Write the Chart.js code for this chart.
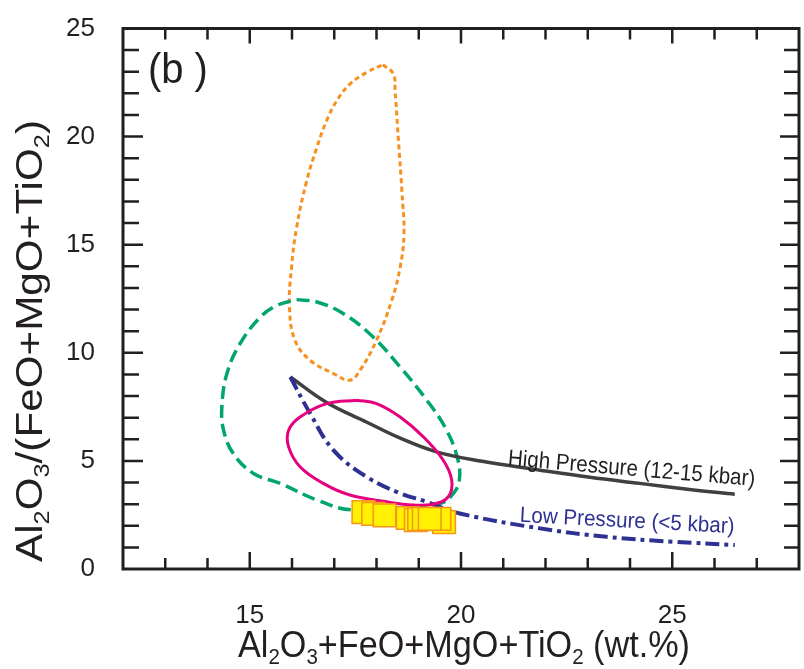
<!DOCTYPE html>
<html>
<head>
<meta charset="utf-8">
<script src="https://cdn.jsdelivr.net/npm/chart.js"></script>
<style>
  html, body { margin: 0; padding: 0; background: #fff; overflow: hidden; }
  canvas { display: block; }
</style>
</head>
<body>
<canvas id="chart" width="804" height="669"></canvas>
<script>
// orange dotted field
const orangeX = [18.15, 18.40, 18.44, 18.52, 18.60, 18.65, 18.56, 18.36, 18.00, 17.61, 17.37, 16.98, 16.43, 16.07, 15.94, 15.99, 16.11, 16.35, 16.59, 16.82, 17.06, 17.37, 17.77, 18.15]
const orangeY = [23.33, 22.90, 22.12, 19.82, 17.50, 15.50, 13.96, 12.42, 10.58, 9.19, 8.73, 9.04, 9.65, 10.58, 12.12, 13.96, 15.81, 17.97, 19.51, 20.74, 21.66, 22.43, 22.97, 23.33]

// green dashed field
const greenX = [16.11, 16.59, 17.22, 17.92, 18.56, 19.19, 19.66, 19.93, 19.96, 19.82, 19.50, 17.45, 16.59, 15.72, 15.09, 14.61, 14.38, 14.34, 14.46, 14.77, 15.25, 15.64, 16.11]
const greenY = [12.46, 12.35, 11.81, 10.73, 9.34, 7.81, 6.42, 5.03, 4.11, 3.50, 3.03, 2.73, 3.19, 3.96, 4.42, 5.34, 6.42, 7.50, 9.04, 10.42, 11.65, 12.19, 12.46]

// magenta field
const pinkX = [17.53, 18.00, 18.56, 19.11, 19.58, 19.78, 19.70, 19.34, 18.87, 18.24, 17.37, 16.74, 16.19, 15.92, 15.92, 16.19, 16.82, 17.53]
const pinkY = [7.81, 7.65, 7.03, 6.11, 5.03, 4.11, 3.34, 3.00, 2.96, 3.11, 3.42, 3.96, 4.73, 5.65, 6.42, 7.03, 7.65, 7.81]

// high pressure curve (12-15 kbar)
const highX = [15.96, 16.82, 17.76, 18.55, 19.42, 20.50, 21.87, 23.05, 24.23, 25.41, 26.48]
const highY = [8.88, 7.70, 6.80, 6.06, 5.42, 4.98, 4.57, 4.24, 3.96, 3.68, 3.46]

// low pressure curve (<5 kbar)
const lowX = [15.96, 16.43, 16.98, 17.77, 18.56, 19.19, 19.97, 21.87, 23.44, 25.02, 26.48]
const lowY = [8.88, 7.19, 5.50, 4.26, 3.50, 3.11, 2.57, 1.88, 1.49, 1.26, 1.11]

// samples
const sampleX = [17.69, 17.92, 18.19, 18.74, 18.93, 19.01, 19.12, 19.60, 19.49, 19.26]
const sampleY = [2.63, 2.55, 2.48, 2.36, 2.26, 2.30, 2.32, 2.17, 2.32, 2.32]

const xTicks = [15, 20, 25]
const yTicks = [0, 5, 10, 15, 20, 25]

const ink = '#231f20'
const family = '"Liberation Sans", Arial, Helvetica, sans-serif'

const pts = (xs, ys) => xs.map((x, i) => ({ x: x, y: ys[i] }))

// text with _x subscripts, squeezed to a target width
function parts(str) {
    const out = []
    for (let i = 0; i < str.length; i++) {
        if (str[i] === '_') { out.push({ t: str[i + 1], sub: true }); i++ }
        else if (out.length && !out[out.length - 1].sub) out[out.length - 1].t += str[i]
        else out.push({ t: str[i], sub: false })
    }
    return out
}

function drawRich(ctx, str, size, width, align) {
    const list = parts(str)
    let w = 0
    list.forEach(p => {
        ctx.font = (p.sub ? size * 0.6 : size) + 'px ' + family
        w += ctx.measureText(p.t).width
    })
    ctx.save()
    ctx.scale(width / w, 1)
    let cx = align === 'center' ? -w / 2 : 0
    ctx.textBaseline = 'alphabetic'
    ctx.textAlign = 'left'
    list.forEach(p => {
        ctx.font = (p.sub ? size * 0.6 : size) + 'px ' + family
        ctx.fillText(p.t, cx, p.sub ? size * 0.2 : 0)
        cx += ctx.measureText(p.t).width
    })
    ctx.restore()
}

const frame = {
    id: 'frame',
    afterDraw(chart) {
        const { ctx, chartArea: a, scales: { x, y } } = chart
        ctx.save()
        ctx.strokeStyle = ink
        ctx.lineWidth = 2.5
        ctx.beginPath()
        x.ticks.forEach(t => {
            if (t.value <= x.min || t.value >= x.max) return
            const px = x.getPixelForValue(t.value)
            const major = xTicks.includes(t.value)
            ctx.moveTo(px, a.bottom); ctx.lineTo(px, a.bottom - (major ? 17 : 11))
            ctx.moveTo(px, a.top); ctx.lineTo(px, a.top + (major ? 15 : 11))
        })
        y.ticks.forEach(t => {
            if (t.value <= y.min || t.value >= y.max) return
            const py = y.getPixelForValue(t.value)
            const major = yTicks.includes(t.value)
            ctx.moveTo(a.left, py); ctx.lineTo(a.left + (major ? 20 : 16), py)
            ctx.moveTo(a.right, py); ctx.lineTo(a.right - (major ? 19 : 15), py)
        })
        ctx.stroke()
        ctx.lineWidth = 3
        ctx.strokeRect(a.left, a.top, a.right - a.left, a.bottom - a.top)
        ctx.restore()
    }
}

const labels = {
    id: 'labels',
    afterDraw(chart) {
        const { ctx, chartArea: a, scales: { x, y } } = chart
        ctx.save()
        ctx.fillStyle = ink

        // axis titles
        ctx.save()
        ctx.translate((a.left + a.right) / 2 + 3, 657)
        drawRich(ctx, 'Al_2O_3+FeO+MgO+TiO_2 (wt.%)', 36, 452, 'center')
        ctx.restore()

        ctx.save()
        ctx.translate(42, 341)
        ctx.rotate(-Math.PI / 2)
        drawRich(ctx, 'Al_2O_3/(FeO+MgO+TiO_2)', 37, 442, 'center')
        ctx.restore()

        // panel letter
        ctx.save()
        ctx.translate(x.getPixelForValue(12.59), y.getPixelForValue(22.5))
        drawRich(ctx, '(b )', 43, 60, 'left')
        ctx.restore()

        // curve labels
        ctx.save()
        ctx.translate(x.getPixelForValue(21.10), y.getPixelForValue(4.80))
        ctx.rotate(4.8 * Math.PI / 180)
        drawRich(ctx, 'High Pressure (12-15 kbar)', 23, 248, 'left')
        ctx.restore()

        ctx.save()
        ctx.fillStyle = '#2e3192'
        ctx.translate(x.getPixelForValue(21.385), y.getPixelForValue(2.18))
        ctx.rotate(3 * Math.PI / 180)
        drawRich(ctx, 'Low Pressure (<5 kbar)', 22, 215, 'left')
        ctx.restore()

        ctx.restore()
    }
}

const line = (data, color, width, dash) => ({
    data: data,
    showLine: true,
    fill: false,
    borderColor: color,
    borderWidth: width,
    borderDash: dash,
    pointRadius: 0,
    tension: 0.4
})

const noPad = s => { s.paddingLeft = 0; s.paddingRight = 0; s.paddingTop = 0; s.paddingBottom = 0 }

new Chart(document.getElementById('chart'), {
    type: 'scatter',
    data: {
        datasets: [
            {
                data: pts(sampleX, sampleY),
                pointStyle: 'rect',
                pointRadius: 16,
                backgroundColor: '#fff100',
                borderColor: '#f7941d',
                borderWidth: 1.5
            },
            line(pts(pinkX, pinkY), '#e6007e', 3, []),
            line(pts(lowX, lowY), '#2e3192', 4, [14, 5, 4, 5]),
            line(pts(highX, highY), '#404040', 3.5, []),
            line(pts(greenX, greenY), '#00a66e', 3.5, [13, 6]),
            line(pts(orangeX, orangeY), '#f7901e', 3, [5, 3.5])
        ]
    },
    options: {
        responsive: false,
        animation: false,
        events: [],
        layout: { autoPadding: false, padding: { top: 28.5, right: 5, left: 0, bottom: 0 } },
        plugins: { legend: { display: false }, tooltip: { enabled: false } },
        scales: {
            x: {
                type: 'linear',
                min: 12,
                max: 28,
                afterFit(s) { s.height = 100; noPad(s) },
                grid: { display: false },
                border: { display: false },
                ticks: {
                    stepSize: 1,
                    autoSkip: false,
                    maxRotation: 0,
                    padding: 23,
                    color: ink,
                    font: { size: 26, family: family },
                    callback: v => xTicks.includes(v) ? v : ''
                }
            },
            y: {
                type: 'linear',
                min: 0,
                max: 25,
                afterFit(s) { s.width = 123; noPad(s) },
                grid: { display: false },
                border: { display: false },
                ticks: {
                    stepSize: 1,
                    autoSkip: false,
                    padding: 20,
                    color: ink,
                    font: { size: 26, family: family },
                    callback: v => yTicks.includes(v) ? v : ''
                }
            }
        }
    },
    plugins: [frame, labels]
})
</script>
</body>
</html>
